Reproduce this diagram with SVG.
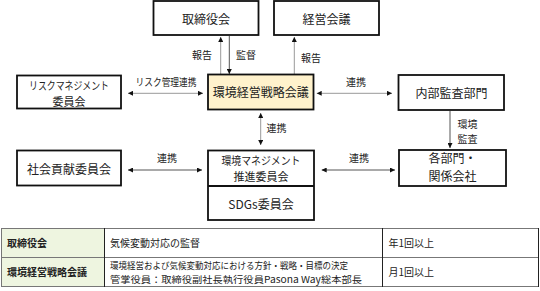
<svg xmlns="http://www.w3.org/2000/svg" width="540" height="291" viewBox="0 0 540 291">
<style>
.box{fill:#fff;stroke:#111;stroke-width:1.8}
.hl{fill:#FFF2CC}
.t{font-family:"Noto Sans CJK JP","Noto Sans",sans-serif;font-size:12px;fill:#222;text-anchor:middle}
.t2{font-size:11px}
.lbl{font-family:"Noto Sans CJK JP","Noto Sans",sans-serif;font-size:10px;fill:#222;text-anchor:middle}
.tb{font-family:"Noto Sans CJK JP","Noto Sans",sans-serif;font-size:10px;fill:#222}
.sm{font-size:9.3px}
.b{font-weight:bold}
.c{stroke:#999;stroke-width:1;fill:none}
.cd{stroke:#555;stroke-width:1;fill:none}
.cell{fill:#fff;stroke:#777;stroke-width:1}
.g{fill:#EEF5E0}
</style>
<defs>
<marker id="ah" viewBox="0 0 6 6" refX="6" refY="3" markerWidth="5" markerHeight="5" markerUnits="userSpaceOnUse" orient="auto-start-reverse">
<path d="M0,0 L6,3 L0,6 z" fill="#111"/>
</marker>
</defs>

<g id="connectors">
<line class="c" x1="220.7" y1="74" x2="220.7" y2="37" marker-end="url(#ah)"/>
<line class="cd" x1="229.3" y1="36" x2="229.3" y2="74" marker-end="url(#ah)"/>
<line class="c" x1="294.3" y1="74" x2="294.3" y2="37" marker-end="url(#ah)"/>
<line class="c" x1="128" y1="93.3" x2="203" y2="93.3" marker-start="url(#ah)" marker-end="url(#ah)"/>
<line class="c" x1="316.7" y1="93.3" x2="392" y2="93.3" marker-start="url(#ah)" marker-end="url(#ah)"/>
<line class="c" x1="260.7" y1="113" x2="260.7" y2="145" marker-start="url(#ah)" marker-end="url(#ah)"/>
<line class="cd" x1="128" y1="170" x2="202" y2="170" marker-start="url(#ah)" marker-end="url(#ah)"/>
<line class="cd" x1="321.7" y1="170" x2="395" y2="170" marker-start="url(#ah)" marker-end="url(#ah)"/>
<line class="cd" x1="450" y1="111" x2="450" y2="148" marker-end="url(#ah)"/>
<text class="lbl" x="202" y="58.5">報告</text>
<text class="lbl" x="246" y="58.5">監督</text>
<text class="lbl" x="311" y="62">報告</text>
<text class="lbl" x="166" y="85.5" textLength="61" lengthAdjust="spacingAndGlyphs">リスク管理連携</text>
<text class="lbl" x="356" y="85.5">連携</text>
<text class="lbl" x="276.5" y="132">連携</text>
<text class="lbl" x="167" y="162">連携</text>
<text class="lbl" x="359" y="162">連携</text>
<text class="lbl" x="467.5" y="128">環境</text>
<text class="lbl" x="467.5" y="143">監査</text>
</g>

<g id="n-torishimariyakukai">
<rect class="box" x="153.5" y="1" width="105" height="34"/>
<text class="t" x="206" y="24">取締役会</text>
</g>
<g id="n-keieikaigi">
<rect class="box" x="274" y="1" width="105" height="34"/>
<text class="t" x="326.5" y="24">経営会議</text>
</g>
<g id="n-risk">
<rect class="box" x="17" y="75.5" width="104" height="33"/>
<text class="t t2" x="69" y="89.5" textLength="80" lengthAdjust="spacingAndGlyphs">リスクマネジメント</text>
<text class="t t2" x="69" y="105.5">委員会</text>
</g>
<g id="n-senryaku">
<rect class="box hl" x="208" y="74.5" width="105.5" height="35"/>
<text class="t" x="260.7" y="96.5">環境経営戦略会議</text>
</g>
<g id="n-naibukansa">
<rect class="box" x="398.5" y="75" width="105.5" height="35"/>
<text class="t" x="451.5" y="98">内部監査部門</text>
</g>
<g id="n-shakai">
<rect class="box" x="17" y="150.5" width="104" height="35"/>
<text class="t" x="69" y="174">社会貢献委員会</text>
</g>
<g id="n-suishin">
<rect class="box" x="208" y="150.5" width="106" height="69.5"/>
<line x1="208" y1="186" x2="314" y2="186" stroke="#111" stroke-width="1.8"/>
<text class="t t2" x="261" y="164.5" textLength="79" lengthAdjust="spacingAndGlyphs">環境マネジメント</text>
<text class="t t2" x="261" y="180.5">推進委員会</text>
<text class="t" x="261" y="209">SDGs委員会</text>
</g>
<g id="n-kakubumon">
<rect class="box" x="399" y="150" width="107" height="36"/>
<text class="t" x="452.5" y="163">各部門・</text>
<text class="t" x="452.5" y="181">関係会社</text>
</g>

<g id="table">
<rect class="cell g" x="1.5" y="228.5" width="103" height="29"/>
<rect class="cell" x="104.5" y="228.5" width="278" height="29"/>
<rect class="cell" x="382.5" y="228.5" width="156" height="29"/>
<rect class="cell g" x="1.5" y="257.5" width="103" height="29"/>
<rect class="cell" x="104.5" y="257.5" width="278" height="29"/>
<rect class="cell" x="382.5" y="257.5" width="156" height="29"/>
<line x1="104.5" y1="228" x2="104.5" y2="287" stroke="#222" stroke-width="1"/>
<line x1="382.5" y1="228" x2="382.5" y2="287" stroke="#222" stroke-width="1"/>
<line x1="538.5" y1="228" x2="538.5" y2="287" stroke="#222" stroke-width="1"/>
<text class="tb b" x="7" y="246.5">取締役会</text>
<text class="tb" x="110" y="246.5">気候変動対応の監督</text>
<text class="tb" x="388.5" y="246.5">年1回以上</text>
<text class="tb b" x="7" y="276">環境経営戦略会議</text>
<text class="tb sm" x="110" y="269.3" textLength="238" lengthAdjust="spacingAndGlyphs">環境経営および気候変動対応における方針・戦略・目標の決定</text>
<text class="tb sm" x="110" y="283" textLength="252" lengthAdjust="spacingAndGlyphs">管掌役員：取締役副社長執行役員Pasona Way総本部長</text>
<text class="tb" x="388.5" y="276">月1回以上</text>
</g>
</svg>
